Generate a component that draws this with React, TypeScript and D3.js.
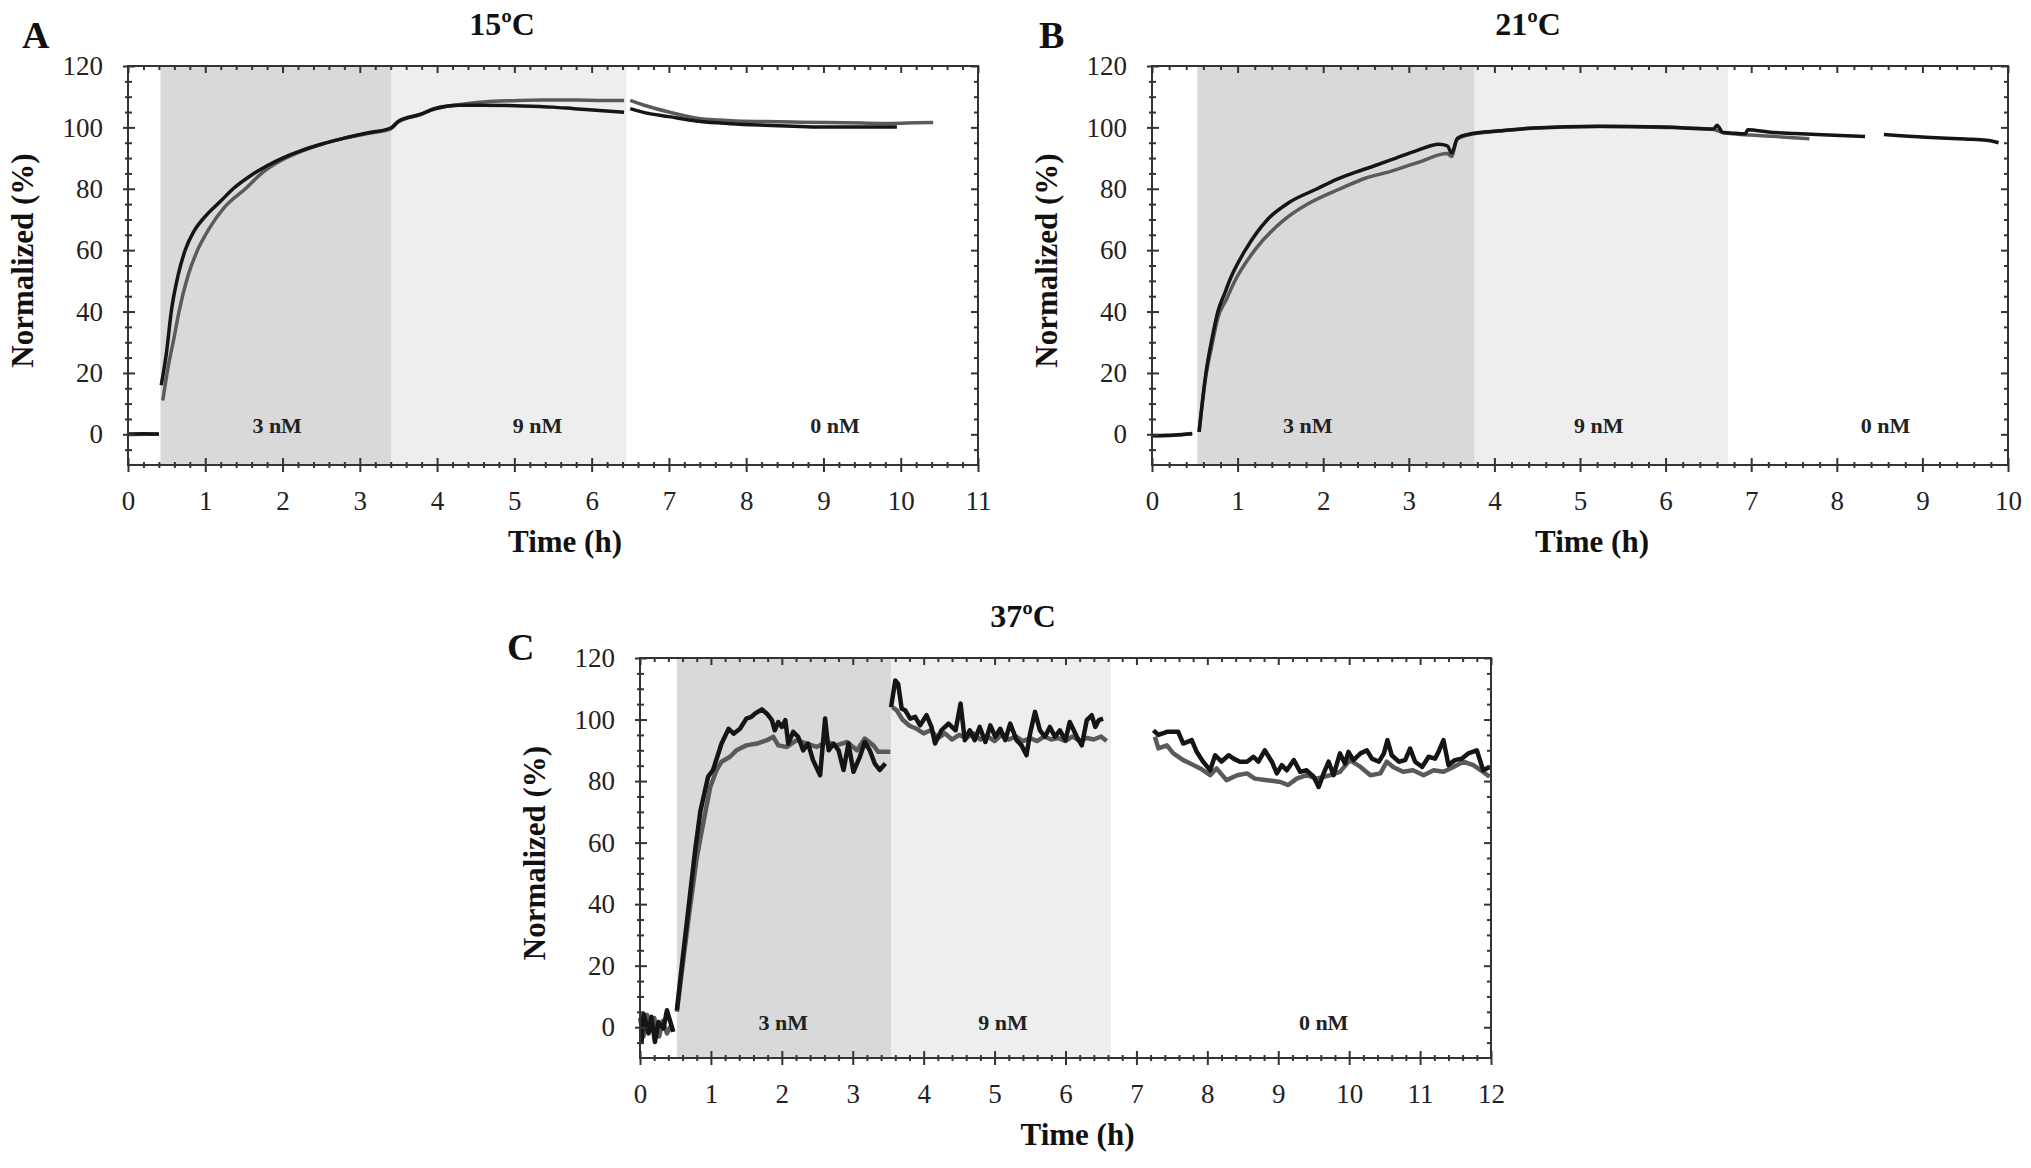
import * as d3 from "d3";
import { useEffect, useRef } from "react";

type Pt = [number, number | null];

// ---- data (time in h, normalized %) ----
// null marks a gap in the recording

const a15Black: Pt[] = [
    [0.0, 0.1], [0.2, 0.2], [0.4, 0.1], [0.41, null],
    [0.43, 16], [0.5, 27], [0.56, 40], [0.65, 52], [0.74, 60], [0.85, 66], [1.0, 71],
    [1.2, 76], [1.36, 80], [1.6, 84.5], [1.8, 87.5], [2.0, 90], [2.25, 92.5], [2.5, 94.5],
    [2.8, 96.5], [3.1, 98.2], [3.4, 99.8],
    [3.5, 102], [3.79, 104.3], [3.95, 106], [4.28, 107.2], [4.6, 107.2], [5.1, 107],
    [5.5, 106.6], [5.77, 106.1], [6.1, 105.5], [6.42, 104.9], [6.46, null],
    [6.5, 106.1], [6.67, 104.9], [7.0, 103.5], [7.41, 101.9], [7.8, 101.2], [8.24, 100.7],
    [8.7, 100.3], [9.06, 100.1], [9.5, 100.1], [9.95, 100.1],
];

const a15Gray: Pt[] = [
    [0.0, -0.1], [0.2, 0], [0.4, 0], [0.41, null],
    [0.45, 11], [0.52, 22], [0.6, 32], [0.66, 40], [0.78, 52], [0.9, 60], [1.05, 67],
    [1.25, 74], [1.52, 80], [1.75, 85.5], [2.0, 89.5], [2.25, 92.3], [2.5, 94.5],
    [2.8, 96.5], [3.1, 98], [3.4, 99.5],
    [3.5, 101.8], [3.79, 104.2], [3.95, 105.8], [4.28, 107.4], [4.61, 108.3], [5.0, 108.7],
    [5.35, 108.9], [5.8, 108.9], [6.1, 108.8], [6.42, 108.8], [6.46, null],
    [6.5, 108.8], [6.67, 107.3], [7.0, 105], [7.41, 102.8], [7.8, 102.2], [8.24, 101.9],
    [8.7, 101.7], [9.06, 101.6], [9.5, 101.4], [9.88, 101.3], [10.2, 101.5], [10.42, 101.6],
];

const b21Black: Pt[] = [
    [0.0, -0.5], [0.25, -0.3], [0.47, 0.2], [0.5, null],
    [0.55, 0.8], [0.63, 20], [0.7, 31], [0.77, 40], [0.85, 46], [0.92, 51], [1.09, 60],
    [1.35, 70], [1.6, 75.5], [1.93, 80], [2.15, 83], [2.39, 85.5], [2.6, 87.5], [2.85, 90],
    [3.1, 92.5], [3.35, 94.5], [3.45, 94], [3.5, 91.7], [3.57, 96.5], [3.69, 97.7],
    [4.07, 98.9], [4.45, 99.8], [5.22, 100.4], [5.98, 100.1], [6.56, 99.5], [6.6, 100.7],
    [6.67, 98.3], [6.75, 98.2], [6.93, 97.9], [6.96, 99.2], [7.2, 98.5], [7.51, 98],
    [7.9, 97.5], [8.33, 97], [8.4, null],
    [8.55, 97.7], [9.04, 96.8], [9.5, 96.2], [9.75, 95.8], [9.89, 95],
];

const b21Gray: Pt[] = [
    [0.0, -0.4], [0.25, -0.2], [0.47, 0.3], [0.5, null],
    [0.55, 0.8], [0.63, 19], [0.7, 29], [0.77, 38], [0.87, 44], [0.95, 49], [1.2, 60],
    [1.55, 70], [1.85, 75.5], [2.2, 80], [2.5, 83.5], [2.77, 85.5], [3.1, 88.5],
    [3.45, 91.5], [3.5, 90.5], [3.56, 96], [3.69, 97.5], [4.07, 98.8], [4.45, 99.7],
    [5.22, 100.3], [5.98, 100], [6.56, 99.3], [6.67, 98.3],
    [6.75, 98], [7.0, 97.5], [7.3, 97], [7.68, 96.3],
];

const c37Black: Pt[] = [
    [0.02, -5.3], [0.05, 4.4], [0.12, -2], [0.16, 3.4], [0.21, -4.8], [0.26, 1.7],
    [0.33, -0.4], [0.38, 5.5], [0.45, 0], [0.47, -1.5], [0.49, null],
    [0.52, 5.5], [0.6, 22], [0.7, 42], [0.78, 58], [0.85, 70], [0.96, 81.4], [1.03, 83.6],
    [1.15, 92.2], [1.25, 97], [1.32, 95.4], [1.41, 97], [1.5, 100.3], [1.57, 100.9],
    [1.62, 101.9], [1.72, 103.3], [1.79, 101.9], [1.86, 99.8], [1.9, 96.5], [1.95, 99.2],
    [2.0, 97.6], [2.05, 99.8], [2.09, 92.2], [2.16, 96], [2.23, 94.4], [2.3, 90],
    [2.37, 92.2], [2.44, 86.8], [2.54, 81.9], [2.61, 100.3], [2.66, 90], [2.73, 92.2],
    [2.8, 90], [2.87, 83.6], [2.94, 92.2], [3.01, 83], [3.1, 87.9], [3.17, 92.7],
    [3.24, 90], [3.31, 85.7], [3.38, 83.6], [3.46, 85.7], [3.5, null],
    [3.54, 104], [3.6, 112.7], [3.64, 111.6], [3.69, 103.5], [3.74, 103], [3.81, 100.3],
    [3.88, 100.9], [3.95, 98.1], [4.04, 101.4], [4.11, 97.6], [4.16, 92.2], [4.25, 96.5],
    [4.35, 98.7], [4.45, 96.5], [4.52, 105.2], [4.58, 93.3], [4.65, 96.5], [4.72, 93.3],
    [4.79, 97.6], [4.87, 92.7], [4.94, 98.1], [5.01, 94.4], [5.08, 97], [5.15, 93.3],
    [5.22, 98.7], [5.31, 93.3], [5.38, 91.6], [5.45, 88.4], [5.5, 95.4], [5.57, 102.5],
    [5.64, 96.5], [5.71, 94.4], [5.78, 97.6], [5.85, 94.4], [5.92, 96.5], [6.0, 93.3],
    [6.06, 99.2], [6.16, 94.4], [6.23, 91.6], [6.3, 99.8], [6.37, 101.4], [6.42, 97.6],
    [6.47, 99.8], [6.53, 100.3], [6.6, null],
    [7.24, 96.5], [7.31, 95], [7.43, 96], [7.59, 96], [7.66, 92.2], [7.78, 93.3],
    [7.85, 89.5], [7.94, 86.3], [8.04, 83.5], [8.11, 88.4], [8.2, 86.3], [8.3, 88.4],
    [8.37, 87.3], [8.46, 86.3], [8.56, 86.3], [8.65, 87.9], [8.72, 86.3], [8.81, 90],
    [8.91, 86.3], [8.98, 82.5], [9.05, 85.2], [9.12, 83.5], [9.22, 86.8], [9.31, 83],
    [9.4, 83.5], [9.5, 81.4], [9.57, 78.1], [9.64, 82.5], [9.71, 86.3], [9.78, 81.9],
    [9.87, 89], [9.94, 85.7], [9.99, 89.5], [10.06, 86.8], [10.16, 89], [10.25, 90],
    [10.32, 87.3], [10.42, 86.3], [10.49, 89], [10.54, 93.3], [10.6, 88.4], [10.7, 86.3],
    [10.79, 86.8], [10.86, 90.6], [10.93, 86.3], [11.03, 84.6], [11.12, 87.9],
    [11.21, 87.3], [11.26, 89.5], [11.33, 93.3], [11.4, 85.2], [11.49, 86.8],
    [11.59, 87.3], [11.68, 89], [11.8, 90], [11.89, 83.5], [11.98, 84.6],
];

const c37Gray: Pt[] = [
    [0.0, 3], [0.05, -3], [0.1, 4], [0.15, -1], [0.2, 3], [0.27, -3], [0.32, 2],
    [0.38, -2], [0.45, 1], [0.49, null],
    [0.52, 5], [0.6, 20], [0.7, 38], [0.8, 55], [0.88, 65], [0.99, 78], [1.08, 83.6],
    [1.15, 86.3], [1.27, 87.9], [1.36, 90], [1.5, 91.6], [1.65, 92.2], [1.79, 93.3],
    [1.88, 94.4], [1.95, 91.6], [2.07, 91.1], [2.21, 93.3], [2.35, 92.2], [2.49, 91.1],
    [2.63, 92.7], [2.77, 91.6], [2.92, 92.7], [3.06, 90], [3.17, 93.8], [3.29, 91.6],
    [3.36, 89.5], [3.53, 89.5], [3.54, null],
    [3.56, 104], [3.62, 103], [3.7, 100], [3.8, 98], [3.9, 97], [4.0, 95.5], [4.1, 96.5],
    [4.2, 94], [4.3, 95.5], [4.4, 93.5], [4.5, 95], [4.6, 94], [4.7, 95.5], [4.8, 93.5],
    [4.9, 94.5], [5.0, 93], [5.1, 95], [5.2, 93.5], [5.3, 94.5], [5.4, 93], [5.5, 94],
    [5.6, 93], [5.7, 94.5], [5.8, 93.5], [5.9, 94], [6.0, 93], [6.1, 94.5], [6.2, 93],
    [6.3, 94], [6.4, 93.5], [6.5, 94.5], [6.58, 93], [6.6, null],
    [7.26, 94.4], [7.31, 90.6], [7.43, 91.6], [7.52, 89], [7.66, 86.8], [7.76, 85.7],
    [7.9, 84.1], [8.04, 81.9], [8.13, 84.1], [8.27, 80.3], [8.42, 81.9], [8.56, 82.5],
    [8.67, 80.8], [8.84, 80.3], [9.03, 79.7], [9.14, 78.7], [9.26, 80.8], [9.4, 81.9],
    [9.54, 80.8], [9.73, 81.9], [9.87, 83], [10.01, 86.8], [10.16, 84.6], [10.3, 81.9],
    [10.44, 82.5], [10.53, 86.3], [10.62, 84.6], [10.76, 83], [10.9, 83.5], [11.05, 81.9],
    [11.19, 83.5], [11.33, 83], [11.47, 84.6], [11.61, 86.3], [11.75, 85.2], [11.89, 83],
    [11.98, 81.4],
];

// concentration phases: start of 3 nM, start of 9 nM, start of 0 nM
const phasesA = [0.42, 3.41, 6.45];
const phasesB = [0.53, 3.77, 6.73];
const phasesC = [0.52, 3.54, 6.64];

const concLabels = ["3 nM", "9 nM", "0 nM"];
const concLabelTimesA = [1.93, 5.3, 9.15];
const concLabelTimesB = [1.82, 5.22, 8.57];
const concLabelTimesC = [2.02, 5.12, 9.64];

const yTicks = [0, 20, 40, 60, 80, 100, 120];
const titles = ["15ºC", "21ºC", "37ºC"];
const letters = ["A", "B", "C"];

const FONT = "'Liberation Serif', 'Times New Roman', serif";
const AXIS = "#333";

type PanelCfg = {
    black: Pt[];
    gray: Pt[];
    phases: number[];
    labelTimes: number[];
    labelValue: number;
    xMax: number;
    smooth: boolean;
    stroke: number;
    title: string;
    letter: string;
    box: { left: number; top: number; right: number; bottom: number };
    titleX: number;
    letterPos: [number, number];
};

function drawPanel(root: d3.Selection<SVGGElement, unknown, null, undefined>, cfg: PanelCfg) {
    const { left, top, right, bottom } = cfg.box;
    const g = root.append("g");

    const x = d3.scaleLinear().domain([0, cfg.xMax]).range([left, right]);
    const y = d3.scaleLinear().domain([-10, 120]).range([bottom, top]);

    // shaded concentration phases
    const [p3, p9, p0] = cfg.phases;
    g.append("rect")
        .attr("x", x(p3))
        .attr("y", top)
        .attr("width", x(p9) - x(p3))
        .attr("height", bottom - top)
        .attr("fill", "#d9d9d9");
    g.append("rect")
        .attr("x", x(p9))
        .attr("y", top)
        .attr("width", x(p0) - x(p9))
        .attr("height", bottom - top)
        .attr("fill", "#eeeeee");

    g.selectAll(".conc")
        .data(concLabels)
        .join("text")
        .attr("x", (_, i) => x(cfg.labelTimes[i]))
        .attr("y", y(cfg.labelValue))
        .attr("text-anchor", "middle")
        .style("font-family", FONT)
        .style("font-weight", "bold")
        .style("font-size", "22px")
        .style("fill", "#222")
        .text((d) => d);

    const line = d3
        .line<Pt>()
        .defined((d) => d[1] !== null)
        .x((d) => x(d[0]))
        .y((d) => y(d[1] as number))
        .curve(cfg.smooth ? d3.curveMonotoneX : d3.curveLinear);

    g.append("path")
        .attr("d", line(cfg.gray))
        .attr("fill", "none")
        .attr("stroke", "#5a5a5a")
        .attr("stroke-width", cfg.stroke)
        .attr("stroke-linejoin", "round");
    g.append("path")
        .attr("d", line(cfg.black))
        .attr("fill", "none")
        .attr("stroke", "#151515")
        .attr("stroke-width", cfg.stroke)
        .attr("stroke-linejoin", "round");

    const xMajor = d3.range(0, cfg.xMax + 1);
    const xMinor = d3.range(0, cfg.xMax * 5).map((i) => i / 5).filter((v) => Math.abs(v - Math.round(v)) > 1e-6);
    const yMinor = d3.range(-5, 121, 5).filter((v) => v % 20 !== 0);

    const styleAxis = (sel: d3.Selection<SVGGElement, unknown, null, undefined>) => {
        sel.select(".domain").remove();
        sel.selectAll(".tick line").attr("stroke", AXIS).attr("stroke-width", 2);
        sel.selectAll("text")
            .style("font-family", FONT)
            .style("font-size", "27px")
            .style("fill", "#222");
    };

    // bottom
    g.append("g")
        .attr("transform", `translate(0,${bottom})`)
        .call(d3.axisBottom(x).tickValues(xMajor).tickSize(7).tickPadding(19).tickFormat(d3.format("d")))
        .call(styleAxis)
        .call((s) => s.selectAll(".tick line").attr("y1", -7));
    g.append("g")
        .attr("transform", `translate(0,${bottom})`)
        .call(d3.axisBottom(x).tickValues(xMinor).tickSize(3).tickFormat(() => ""))
        .call(styleAxis)
        .call((s) => s.selectAll(".tick line").attr("y1", -3));

    // top
    g.append("g")
        .attr("transform", `translate(0,${top})`)
        .call(d3.axisTop(x).tickValues(xMajor).tickSize(-7).tickFormat(() => ""))
        .call(styleAxis);
    g.append("g")
        .attr("transform", `translate(0,${top})`)
        .call(d3.axisTop(x).tickValues(xMinor).tickSize(-4).tickFormat(() => ""))
        .call(styleAxis);

    // left
    g.append("g")
        .attr("transform", `translate(${left},0)`)
        .call(d3.axisLeft(y).tickValues(yTicks).tickSize(5).tickPadding(20))
        .call(styleAxis)
        .call((s) => s.selectAll(".tick line").attr("x1", 7));
    g.append("g")
        .attr("transform", `translate(${left},0)`)
        .call(d3.axisLeft(y).tickValues(yMinor).tickSize(3).tickFormat(() => ""))
        .call(styleAxis)
        .call((s) => s.selectAll(".tick line").attr("x1", 4));

    // right
    g.append("g")
        .attr("transform", `translate(${right},0)`)
        .call(d3.axisRight(y).tickValues(yTicks).tickSize(-7).tickFormat(() => ""))
        .call(styleAxis);
    g.append("g")
        .attr("transform", `translate(${right},0)`)
        .call(d3.axisRight(y).tickValues(yMinor).tickSize(-4).tickFormat(() => ""))
        .call(styleAxis);

    g.append("rect")
        .attr("x", left)
        .attr("y", top)
        .attr("width", right - left)
        .attr("height", bottom - top)
        .attr("fill", "none")
        .attr("stroke", AXIS)
        .attr("stroke-width", 2);

    // titles and labels
    g.append("text")
        .attr("x", cfg.titleX)
        .attr("y", top - 31)
        .attr("text-anchor", "middle")
        .style("font-family", FONT)
        .style("font-weight", "bold")
        .style("font-size", "32px")
        .style("fill", "#111")
        .text(cfg.title);

    g.append("text")
        .attr("x", cfg.letterPos[0])
        .attr("y", cfg.letterPos[1])
        .style("font-family", FONT)
        .style("font-weight", "bold")
        .style("font-size", "38px")
        .style("fill", "#111")
        .text(cfg.letter);

    g.append("text")
        .attr("transform", `translate(${left - 95},${(top + bottom) / 2 - 5}) rotate(-90)`)
        .attr("text-anchor", "middle")
        .style("font-family", FONT)
        .style("font-weight", "bold")
        .style("font-size", "31px")
        .style("fill", "#111")
        .text("Normalized (%)");

    g.append("text")
        .attr("x", (left + right) / 2 + 12)
        .attr("y", bottom + 87)
        .attr("text-anchor", "middle")
        .style("font-family", FONT)
        .style("font-weight", "bold")
        .style("font-size", "31px")
        .style("fill", "#111")
        .text("Time (h)");
}

export default function App() {
    const ref = useRef<SVGSVGElement | null>(null);

    useEffect(() => {
        if (!ref.current) return;
        const svg = d3.select(ref.current);
        svg.selectAll("*").remove();
        const root = svg.append("g") as d3.Selection<SVGGElement, unknown, null, undefined>;

        drawPanel(root, {
            black: a15Black,
            gray: a15Gray,
            phases: phasesA,
            labelTimes: concLabelTimesA,
            labelValue: 0.3,
            xMax: 11,
            smooth: true,
            stroke: 3.5,
            title: titles[0],
            letter: letters[0],
            box: { left: 128, top: 66, right: 978, bottom: 465 },
            titleX: 502,
            letterPos: [22, 48],
        });
        drawPanel(root, {
            black: b21Black,
            gray: b21Gray,
            phases: phasesB,
            labelTimes: concLabelTimesB,
            labelValue: 0.3,
            xMax: 10,
            smooth: true,
            stroke: 3.5,
            title: titles[1],
            letter: letters[1],
            box: { left: 1152, top: 66, right: 2008, bottom: 465 },
            titleX: 1528,
            letterPos: [1039, 48],
        });
        drawPanel(root, {
            black: c37Black,
            gray: c37Gray,
            phases: phasesC,
            labelTimes: concLabelTimesC,
            labelValue: -1,
            xMax: 12,
            smooth: false,
            stroke: 4.5,
            title: titles[2],
            letter: letters[2],
            box: { left: 640, top: 658, right: 1491, bottom: 1058 },
            titleX: 1023,
            letterPos: [507, 660],
        });
    }, []);

    return (
        <svg
            ref={ref}
            width={2031}
            height={1168}
            style={{ position: "absolute", left: 0, top: 0, background: "#fff" }}
        />
    );
}
